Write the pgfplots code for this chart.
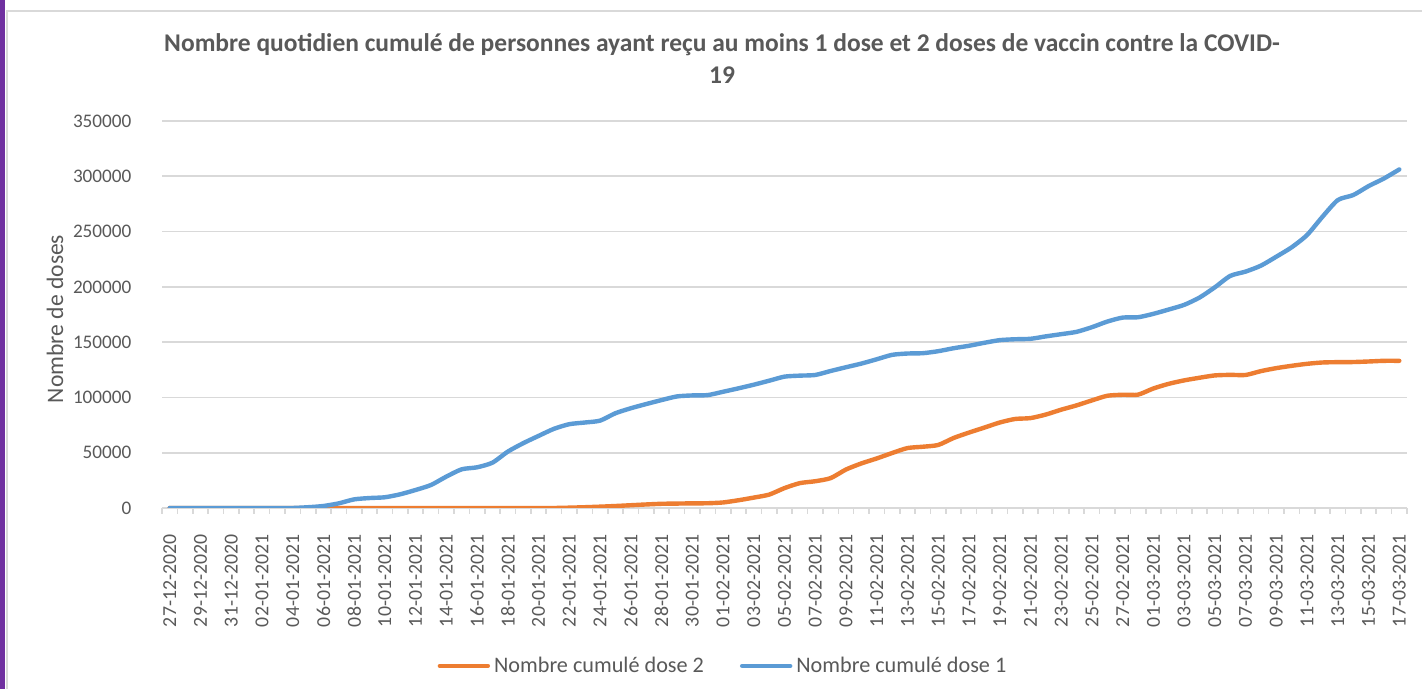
\documentclass[border=0pt]{standalone}
\usepackage{fontspec}
\setmainfont{Carlito}
\usepackage{pgfplots}
\pgfplotsset{compat=1.18}
\definecolor{txt}{HTML}{595959}
\definecolor{gridc}{HTML}{D9D9D9}
\definecolor{dose1}{HTML}{5B9BD5}
\definecolor{dose2}{HTML}{ED7D31}
\definecolor{purp}{HTML}{7030A0}

\pgfplotstableread{
i d2 d1
0 0 0
1 0 0
2 0 0
3 0 0
4 0 0
5 0 0
6 0 0
7 0 0
8 0 0
9 0 700
10 0 1800
11 0 4200
12 0 7800
13 0 9000
14 0 9700
15 0 12400
16 0 16300
17 0 20800
18 0 28400
19 0 35000
20 0 36800
21 0 41000
22 0 51000
23 0 58600
24 0 65200
25 0 71600
26 300 75800
27 700 77300
28 1200 79000
29 1800 85700
30 2500 90200
31 3200 94000
32 3800 97600
33 4000 100900
34 4200 101800
35 4300 102100
36 5000 105100
37 7000 108200
38 9400 111500
39 12100 115100
40 18000 118800
41 22500 119700
42 24200 120300
43 27000 123900
44 34800 127300
45 40300 130600
46 44800 134500
47 49700 138500
48 54200 139700
49 55400 140000
50 57000 141800
51 63300 144500
52 68200 146700
53 72700 149400
54 77300 151800
55 80500 152600
56 81300 153000
57 84500 155200
58 88900 157200
59 92800 159300
60 97300 163500
61 101500 168600
62 102400 172200
63 102500 172500
64 108100 175600
65 112300 179500
66 115400 183700
67 117800 190300
68 119900 199600
69 120400 209900
70 120300 213800
71 123800 219200
72 126500 227300
73 128600 235800
74 130400 246900
75 131600 263400
76 131900 278500
77 132000 283000
78 132500 291100
79 133100 298000
80 133100 306200
}\vaccin

\begin{document}
\begin{tikzpicture}
\useasboundingbox (0,0) rectangle (711pt,344.5pt);
\fill[white] (0,0) rectangle (711pt,344.5pt);
\fill[purp] (0,0) rectangle (2.5pt,344.5pt);
\draw[gridc,line width=0.8pt] (3.5pt,0) -- (3.5pt,339pt) -- (712pt,339pt);
\begin{axis}[
at={(81pt,90.5pt)},anchor=south west,
scale only axis,width=622.5pt,height=193.5pt,
xmin=-0.5,xmax=80.5,ymin=0,ymax=350000,
axis x line=bottom,axis y line=left,
axis line style={-,gridc,line width=0.8pt},
y axis line style={draw=none},
ytick={0,50000,...,350000},
scaled y ticks=false,
ymajorgrids,grid style={gridc,line width=0.8pt},
major y tick style={draw=none},
xtick={0,2,...,80},
xticklabels={27-12-2020,29-12-2020,31-12-2020,02-01-2021,04-01-2021,06-01-2021,08-01-2021,10-01-2021,12-01-2021,14-01-2021,16-01-2021,18-01-2021,20-01-2021,22-01-2021,24-01-2021,26-01-2021,28-01-2021,30-01-2021,01-02-2021,03-02-2021,05-02-2021,07-02-2021,09-02-2021,11-02-2021,13-02-2021,15-02-2021,17-02-2021,19-02-2021,21-02-2021,23-02-2021,25-02-2021,27-02-2021,01-03-2021,03-03-2021,05-03-2021,07-03-2021,09-03-2021,11-03-2021,13-03-2021,15-03-2021,17-03-2021},
major x tick style={draw=none},
minor xtick={-0.5,0.5,...,80.5},
minor x tick style={gridc,line width=0.8pt},
minor tick length=3pt,
tick align=outside,
xticklabel style={rotate=90,anchor=east,xshift=-5.5pt,font=\fontsize{9.9pt}{11pt}\selectfont,text=txt},
yticklabel style={xshift=-7.5pt,font=\fontsize{9.6pt}{11pt}\selectfont,text=txt},
/pgf/number format/.cd,fixed,1000 sep={},assume math mode=true,
/pgfplots/.cd,
legend columns=2,
legend style={at={(0.4514,-0.408)},anchor=center,draw=none,fill=none,
  font=\fontsize{11.1pt}{13pt}\selectfont,text=txt,
  /tikz/every even column/.append style={column sep=16pt}},
legend image code/.code={\draw[#1,line width=2.2pt,line cap=round] (0,0) -- (24pt,0);},
]
\addplot[dose2,line width=2.2pt,line cap=round,smooth,tension=0.4] table[x=i,y=d2] {\vaccin};
\addlegendentry{Nombre cumulé dose 2}
\addplot[dose1,line width=2.2pt,line cap=round,smooth,tension=0.4] table[x=i,y=d1] {\vaccin};
\addlegendentry{Nombre cumulé dose 1}
\end{axis}
\node[text=txt,font=\bfseries\fontsize{12.75pt}{16pt}\selectfont,align=center,anchor=north] at (361pt,331pt)
  {Nombre quotidien cumulé de personnes ayant reçu au moins 1 dose et 2 doses de vaccin contre la COVID-\\19};
\node[text=txt,font=\fontsize{11.8pt}{13pt}\selectfont,rotate=90] at (27.5pt,185pt) {Nombre de doses};
\end{tikzpicture}
\end{document}
